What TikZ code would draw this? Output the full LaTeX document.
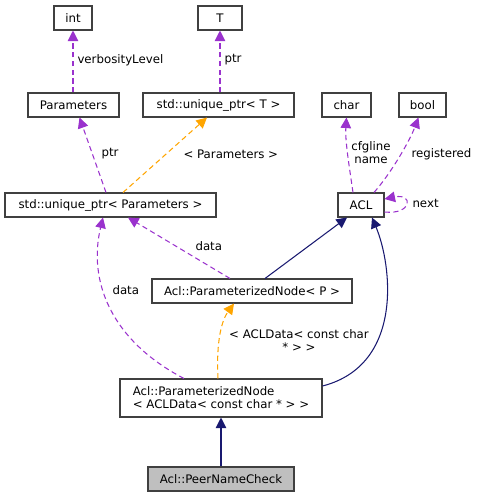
\documentclass[tikz,border=0pt]{standalone}
\usepackage{fontspec}
\setmainfont{DejaVu Sans}
\usetikzlibrary{arrows.meta,calc,positioning}
\definecolor{usecolor}{HTML}{9A32CD}
\definecolor{tplcolor}{HTML}{FFA500}
\definecolor{inhcolor}{HTML}{191970}
\definecolor{boxcolor}{HTML}{404040}
\definecolor{selfcolor}{HTML}{BFBFBF}

\begin{document}
\begin{tikzpicture}[x=0.02cm,y=-0.02cm,->,>={Triangle[length=6pt,width=6pt]},
                    line width=0.6pt,
                    every node/.style={font=\fontsize{6.7}{7.4}\selectfont}]
  \tikzstyle{cls}=[draw=boxcolor,fill=white,minimum height=0.48cm,inner sep=0pt]
  \tikzstyle{uses}=[usecolor,dash pattern=on 3pt off 2pt]
  \tikzstyle{tmpl}=[tplcolor,dash pattern=on 3pt off 2pt]
  \tikzstyle{inh}=[inhcolor]
  \tikzstyle{lbl}=[align=center,inner sep=0pt]

  \useasboundingbox (0,0) rectangle (477,497);

  % classes
  \node[cls,minimum width=0.76cm] (int) at (73,18) {int};
  \node[cls,minimum width=0.88cm] (T) at (220,18) {T};
  \node[cls,minimum width=1.82cm] (params) at (73.5,105) {Parameters};
  \node[cls,minimum width=3.02cm] (uptrT) at (218.5,105) {std::unique\_ptr< T >};
  \node[cls,minimum width=0.98cm] (char) at (346.5,105) {char};
  \node[cls,minimum width=0.94cm] (bool) at (422.5,105) {bool};
  \node[cls,minimum width=4.22cm] (uptrP) at (110.5,205) {std::unique\_ptr< Parameters >};
  \node[cls,minimum width=0.92cm] (acl) at (361,205) {ACL};
  \node[cls,minimum width=4.00cm] (pnodeP) at (252,291) {Acl::ParameterizedNode< P >};
  \node[cls,minimum width=4.04cm,minimum height=0.76cm,align=left] (pnodeACL) at (221,398)
       {Acl::ParameterizedNode\\< ACLData< const char * > >};
  \node[cls,minimum width=2.92cm,fill=selfcolor] (peer) at (221,479) {Acl::PeerNameCheck};

  % members
  \draw[uses] ($(params.north)+(-0.5,0)$) -- (int.south);
  \draw[uses] (uptrT.north -| T.south) -- (T.south);
  \draw[uses] ($(uptrP.north)+(-4.5,0)$) -- ($(params.south)+(6,0)$);
  \draw[uses] ($(acl.north)+(-8,0)$) .. controls (349,165) and (345,140) .. (char.south);
  \draw[uses] ($(acl.north)+(13,0)$) .. controls (392,172) and (410,140) .. ($(bool.south)+(-4,0)$);
  \draw[uses] ($(acl.east)+(0,7)$) .. controls (412,215) and (414,193) .. ($(acl.east)+(0,-6)$);
  \draw[uses] ($(pnodeP.north)+(-22,0)$) -- ($(uptrP.south)+(17.5,0)$);
  \draw[uses] ($(pnodeACL.north)+(-37,0)$) .. controls (110,340) and (88,280) .. ($(uptrP.south)+(-7.5,0)$);

  % templates
  \draw[tmpl] ($(uptrP.north)+(12.5,0)$) -- ($(uptrT.south)+(-11.5,0)$);
  \draw[tmpl] ($(pnodeACL.north)+(-3,0)$) .. controls (216,340) and (222,320) .. ($(pnodeP.south)+(-18,0)$);

  % inheritance
  \draw[inh] ($(pnodeP.north)+(13,0)$) -- ($(acl.south)+(-14,0)$);
  \draw[inh] ($(pnodeACL.east)+(0,-12)$) .. controls (404,365) and (392,265) .. ($(acl.south)+(11,0)$);
  \draw[inh] (peer) -- (pnodeACL);

  % edge labels
  \node[lbl,anchor=west] (lVerb) at (77,60) {verbosityLevel};
  \node[lbl,anchor=west] (lPtrT) at (224,60) {ptr};
  \node[lbl,anchor=west] (lPtrP) at (101,154) {ptr};
  \node[lbl,anchor=west] (lTpl) at (183,154) {< Parameters >};
  \node[lbl] (lChar) at (371,153) {cfgline\\name};
  \node[lbl,anchor=west] (lReg) at (411,154) {registered};
  \node[lbl,anchor=west] (lNext) at (412,203) {next};
  \node[lbl,anchor=west] (lData1) at (195,246) {data};
  \node[lbl,anchor=west] (lData2) at (112,290) {data};
  \node[lbl] (lACL) at (299,341) {< ACLData< const char\\* > >};
\end{tikzpicture}
\end{document}
